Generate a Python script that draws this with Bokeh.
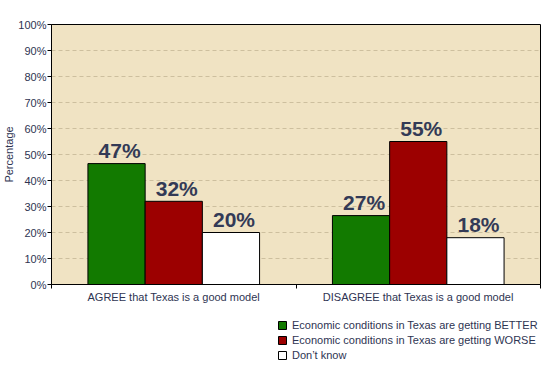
from bokeh.plotting import figure
from bokeh.layouts import column
from bokeh.models import Range1d, FixedTicker, PrintfTickFormatter, Legend, LegendItem, ColumnDataSource
from bokeh.embed import file_html
from bokeh.resources import INLINE
from bokeh.core.properties import value

# ---- data ----
groups = ["AGREE that Texas is a good model", "DISAGREE that Texas is a good model"]
series = ["Economic conditions in Texas are getting BETTER",
          "Economic conditions in Texas are getting WORSE",
          "Don\u2019t know"]
better = [46.5, 26.5]
worse = [32, 55]
dont_know = [20, 18]
better_labels = ["47%", "27%"]
worse_labels = ["32%", "55%"]
dont_know_labels = ["20%", "18%"]
y_ticks = [0, 10, 20, 30, 40, 50, 60, 70, 80, 90, 100]

colors = ["#127a00", "#9c0000", "#ffffff"]
FONT = "Liberation Sans"
TXT = "#2e3452"

p = figure(width=545, height=310, x_range=Range1d(0, 2), y_range=Range1d(0, 100),
           output_backend="svg", toolbar_location=None,
           min_border_left=51, min_border_right=5, min_border_top=24, min_border_bottom=26,
           background_fill_color="#f0e3c3", border_fill_color="white",
           outline_line_color="black", outline_line_width=1)

# legend strip below the chart (its bars lie far outside its visible ranges)
p2 = figure(width=545, height=56, x_range=Range1d(100, 102), y_range=Range1d(1000, 1100),
            output_backend="svg", toolbar_location=None,
            x_axis_location=None, y_axis_location=None,
            min_border=0, min_border_left=0, min_border_right=0,
            min_border_top=0, min_border_bottom=0,
            background_fill_color="white", border_fill_color="white",
            outline_line_color=None)
p2.grid.visible = False

centers = [i + 0.5 for i in range(len(groups))]
bw = 0.234
offsets = [-bw, 0.0, bw]
data_sets = [better, worse, dont_know]
label_sets = [better_labels, worse_labels, dont_know_labels]

legend_renderers = []
for vals, labs, off, col in zip(data_sets, label_sets, offsets, colors):
    src = ColumnDataSource(dict(x=[c + off for c in centers], top=vals, lab=labs))
    p.vbar(x="x", top="top", bottom=0, width=bw, source=src,
           fill_color=col, line_color="black", line_width=1)
    r2 = p2.vbar(x="x", top="top", bottom=0, width=bw, source=src,
                 fill_color=col, line_color="black", line_width=1)
    legend_renderers.append(r2)
    p.text(x="x", y="top", text="lab", source=src,
           text_font=value(FONT), text_font_style="bold", text_font_size="21px",
           text_color="#333a56", text_align="center", text_baseline="alphabetic",
           x_offset=3, y_offset=-13)

# grid
p.xgrid.visible = False
p.ygrid.ticker = FixedTicker(ticks=y_ticks[1:-1])
p.ygrid.grid_line_color = "#cdbf9e"
p.ygrid.grid_line_dash = "4 3"
p.ygrid.grid_line_width = 1

# y axis
p.yaxis.ticker = FixedTicker(ticks=y_ticks)
p.yaxis.formatter = PrintfTickFormatter(format="%d%%")
p.yaxis.axis_label = "Percentage"
p.yaxis.axis_label_text_font = FONT
p.yaxis.axis_label_text_font_size = "11px"
p.yaxis.axis_label_text_font_style = "normal"
p.yaxis.axis_label_text_color = TXT
p.yaxis.axis_label_standoff = 0
p.yaxis.major_label_standoff = 1
p.yaxis.major_tick_out = 4
p.yaxis.major_tick_in = 0
p.yaxis.minor_tick_line_color = None

# x axis
p.xaxis.ticker = FixedTicker(ticks=centers, minor_ticks=[0, 1, 2])
p.xaxis.major_label_overrides = {c: g for c, g in zip(centers, groups)}
p.xaxis.major_tick_in = 0
p.xaxis.major_tick_out = 0
p.xaxis.minor_tick_in = 0
p.xaxis.minor_tick_out = 4
p.xaxis.major_label_standoff = 2

for ax in (p.xaxis, p.yaxis):
    ax.axis_line_color = "black"
    ax.major_tick_line_color = "black"
    ax.major_label_text_font = FONT
    ax.major_label_text_font_size = "11px"
    ax.major_label_text_color = TXT
p.xaxis.minor_tick_line_color = "black"

legend = Legend(items=[LegendItem(label=s, renderers=[r]) for s, r in zip(series, legend_renderers)],
                location=(226, 5), orientation="vertical",
                glyph_width=10, glyph_height=10, label_height=12, spacing=3,
                label_standoff=5, padding=0, margin=0,
                label_text_font=FONT, label_text_font_size="11px", label_text_color=TXT,
                border_line_alpha=0, background_fill_alpha=0)
p2.add_layout(legend, "center")

layout = column(p, p2, spacing=0)
open("out.html", "w").write(file_html(layout, INLINE))
